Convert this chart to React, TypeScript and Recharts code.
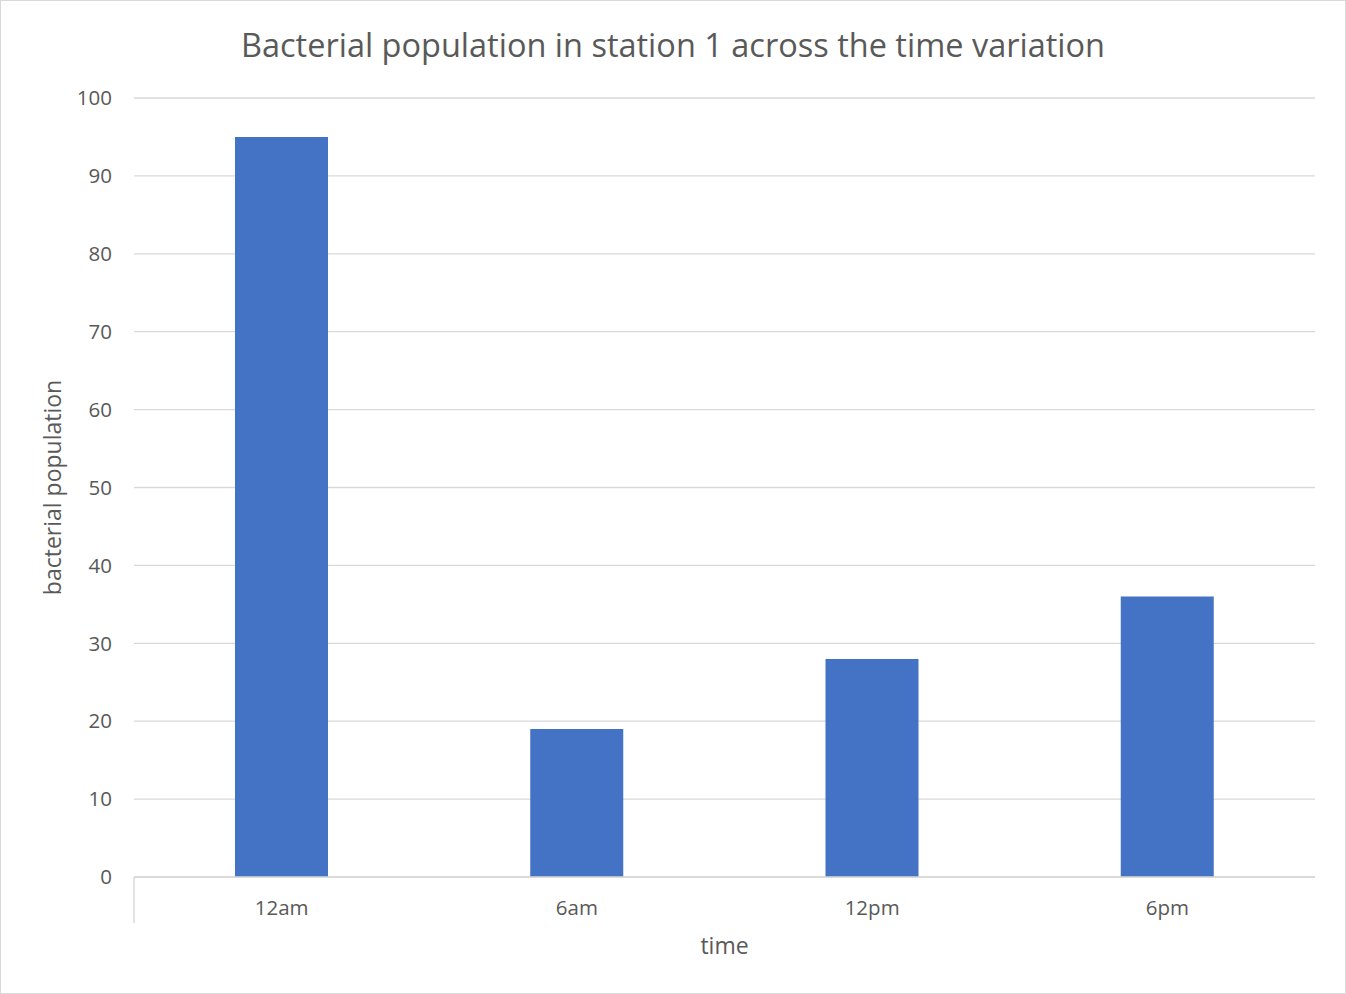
import { BarChart, Bar, XAxis, YAxis, CartesianGrid } from 'recharts';

const times = ['12am', '6am', '12pm', '6pm'];
const population = [95, 19, 28, 36];
const yTicks = [0, 10, 20, 30, 40, 50, 60, 70, 80, 90, 100];
const frameTicks = [0, 4];

const data = times.map((time, i) => ({ time, population: population[i] }));

const textColor = '#595959';
const lineColor = '#d9d9d9';
const font = '"Open Sans", sans-serif';

export default function App() {
  return (
    <div
      style={{
        position: 'absolute',
        top: 0,
        left: 0,
        width: 1346,
        height: 994,
        boxSizing: 'border-box',
        border: `1px solid ${lineColor}`,
        background: '#fff',
        fontFamily: font,
      }}
    >
      <div
        style={{
          position: 'absolute',
          top: 20,
          left: 0,
          width: '100%',
          textAlign: 'center',
          fontSize: 32.5,
          color: textColor,
          lineHeight: '48px',
        }}
      >
        Bacterial population in station 1 across the time variation
      </div>
      <BarChart
        width={1344}
        height={992}
        data={data}
        margin={{ top: 97, right: 30, bottom: 0, left: 0 }}
        style={{ position: 'absolute', top: 0, left: 0, fontFamily: font }}
      >
        <CartesianGrid vertical={false} stroke={lineColor} strokeWidth={1.3} />
        <XAxis
          xAxisId="main"
          dataKey="time"
          height={115}
          axisLine={false}
          tickLine={false}
          tickSize={0}
          tickMargin={22}
          tick={{ fill: textColor, fontSize: 20.5 }}
          label={{ value: 'time', position: 'insideBottom', offset: 39, fill: textColor, fontSize: 23 }}
        />
        {/* edge frame: axis line plus the two end ticks below the plot */}
        <XAxis
          xAxisId={0}
          type="number"
          domain={[0, 4]}
          ticks={frameTicks}
          height={1}
          axisLine={{ stroke: lineColor, strokeWidth: 1.5 }}
          tickSize={46}
          tickLine={{ stroke: lineColor, strokeWidth: 1.5 }}
          tickFormatter={() => ''}
        />
        <YAxis
          width={133}
          domain={[0, 100]}
          ticks={yTicks}
          axisLine={false}
          tickLine={false}
          tickSize={0}
          tickMargin={22}
          tick={{ fill: textColor, fontSize: 20.5 }}
          label={{
            value: 'bacterial population',
            angle: -90,
            position: 'insideLeft',
            offset: 52,
            fill: textColor,
            fontSize: 23,
            style: { textAnchor: 'middle' },
          }}
        />
        <Bar xAxisId="main" dataKey="population" fill="#4472c4" barSize={93} isAnimationActive={false} />
      </BarChart>
    </div>
  );
}
